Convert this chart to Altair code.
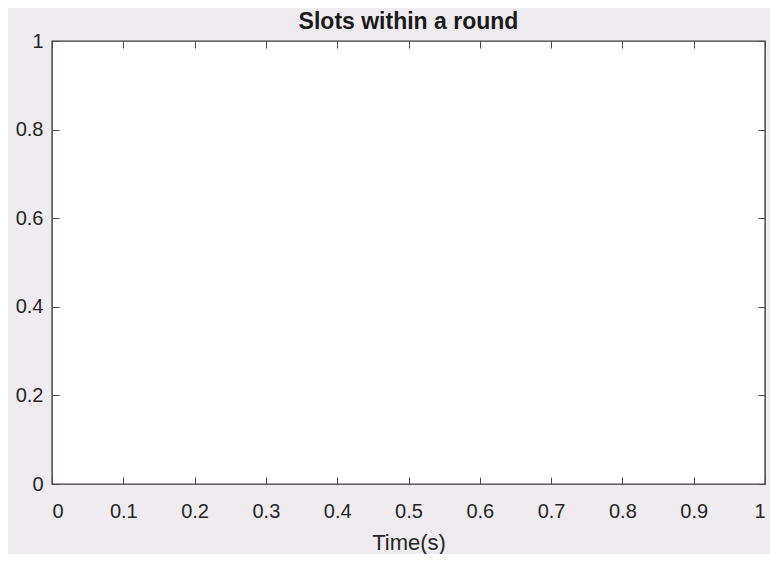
import altair as alt
import pandas as pd

# Chart values
x_domain = [0, 1]
y_domain = [0, 1]
x_ticks = [0, 0.1, 0.2, 0.3, 0.4, 0.5, 0.6, 0.7, 0.8, 0.9, 1]
y_ticks = [0, 0.2, 0.4, 0.6, 0.8, 1]
chart_title = "Slots within a round"
x_title = "Time(s)"

df = pd.DataFrame({"x": x_domain, "y": y_domain})

W, H = 713, 443
FONT = "Liberation Sans"
TXT = "#262626"
TICK = "#4a4a4a"

base = alt.Chart(df).mark_point(opacity=0)


def layer(xaxis, yaxis):
    return base.encode(
        x=alt.X("x:Q", scale=alt.Scale(domain=x_domain, nice=False, zero=False), axis=xaxis),
        y=alt.Y("y:Q", scale=alt.Scale(domain=y_domain, nice=False, zero=False), axis=yaxis),
    )


labels = layer(
    alt.Axis(orient="bottom", values=x_ticks, format="~g", tickSize=0, domain=False, grid=False,
             title=x_title, labelPadding=17, labelFontSize=20, labelFont=FONT, labelColor=TXT,
             titleFont=FONT, titleFontSize=22, titleFontWeight="normal", titleColor=TXT, titlePadding=11),
    alt.Axis(orient="left", values=y_ticks, format="~g", tickSize=0, domain=False, grid=False,
             title="", labelPadding=9, labelFontSize=20, labelFont=FONT, labelColor=TXT),
)

tick_kw = dict(labels=False, domain=False, grid=False, tickSize=7, tickColor=TICK, tickWidth=1, title="")

inner_a = layer(
    alt.Axis(orient="top", offset=-H, values=x_ticks, **tick_kw),
    alt.Axis(orient="right", offset=-W, values=y_ticks, **tick_kw),
)
inner_b = layer(
    alt.Axis(orient="bottom", offset=-H, values=x_ticks, **tick_kw),
    alt.Axis(orient="left", offset=-W, values=y_ticks, **tick_kw),
)

chart = (
    alt.layer(labels, inner_a, inner_b)
    .resolve_axis(x="independent", y="independent")
    .properties(
        width=W,
        height=H,
        title=alt.TitleParams(chart_title, font=FONT, fontSize=23, fontWeight="bold", color="#1a1a1a",
                              offset=-3, anchor="middle"),
        autosize=alt.AutoSizeParams(type="none"),
        padding={"left": 44, "top": 33, "right": 5, "bottom": 70},
        background="#f0ebf1",
    )
    .configure_view(stroke="#3a3a3a", strokeWidth=1.4, fill="white")
)

chart.save("out.html", embed_options={"renderer": "svg", "actions": False})
